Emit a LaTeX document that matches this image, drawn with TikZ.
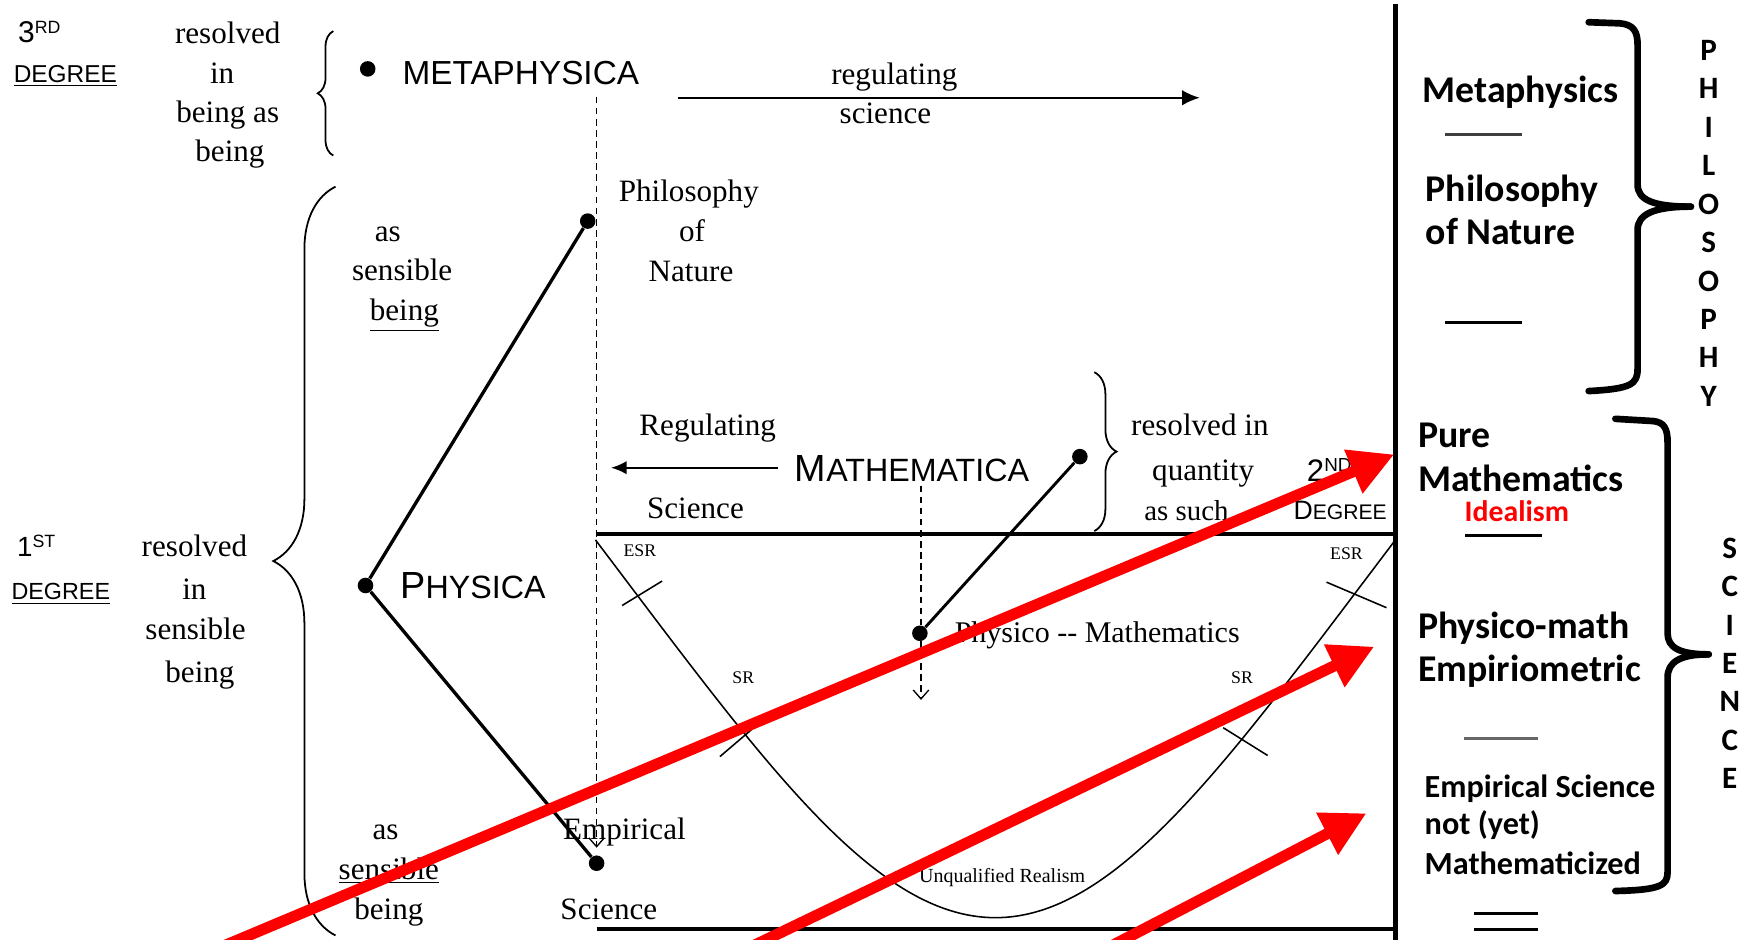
\documentclass[tikz,border=0pt]{standalone}
\usepackage{fontspec}
\usetikzlibrary{arrows.meta,decorations.pathreplacing}
\newfontfamily\serifF{Liberation Serif}
\newfontfamily\sansF{Liberation Sans}
\newfontfamily\calF{Carlito}
\tikzset{
  dot/.style={circle,fill=black,inner sep=0pt,minimum size=7pt},
  tx/.style={inner sep=0pt,font={\serifF\fontsize{14}{16}\selectfont},anchor=mid,yshift=-2.5pt},
  smalltx/.style={inner sep=0pt,font={\serifF\fontsize{8}{9}\selectfont},anchor=mid,yshift=-1pt},
  capt/.style={inner sep=0pt,anchor=base west},
  rt/.style={inner sep=0pt,font={\calF\bfseries\fontsize{17}{20}\selectfont},anchor=base west,yshift=-1.2pt},
  rts/.style={inner sep=0pt,font={\calF\bfseries\fontsize{14.5}{17}\selectfont},anchor=base west,yshift=-1.2pt},
  colt/.style={inner sep=0pt,align=center,font={\calF\bfseries\fontsize{14}{17.3}\selectfont}},
  redarrow/.style={draw=red,line width=5pt,-{Triangle[length=20pt,width=20pt]}},
  hbrace/.style={decorate,decoration={brace,amplitude=#1},line width=0.8pt},
  bbrace/.style={line width=3pt,line cap=round,line join=round},
  tickmark/.style={line width=0.7pt},
  dashln/.style={line width=0.6pt,dash pattern=on 3pt off 2pt},
  vtip/.style={-{Straight Barb[length=4pt,width=7pt]}},
}
\begin{document}
\begin{tikzpicture}[x=0.5pt,y=-0.5pt]
\useasboundingbox (0,0) rectangle (1568,846);
\clip (0,0) rectangle (1568,846);

% ---------- 3rd degree ----------
\node[capt,font={\sansF\fontsize{13.5}{14}\selectfont}] (n3) at (16,38) {3\raisebox{4pt}{\fontsize{8}{9}\selectfont RD}};
\node[capt,font={\sansF\fontsize{11}{12}\selectfont}] (deg3) at (12,74) {\underline{DEGREE}};
\node[tx] (r3a) at (205,30) {resolved};
\node[tx] (r3b) at (200,66) {in};
\node[tx] (r3c) at (205,101) {being as};
\node[tx] (r3d) at (207,136) {being};
\draw[hbrace=7pt] (300,140) -- (300,28);
\node[dot] (meta) at (331,62) {};
\node[capt,font={\sansF\fontsize{15}{16}\selectfont}] (metat) at (362,76) {METAPHYSICA};
\coordinate (rs) at (610,88);
\coordinate (re) at (1080,88);
\draw[line width=1pt,-{Latex[length=8pt,width=7pt]}] (rs) -- (re);
\node[tx] (regt) at (805,67) {regulating};
\node[tx] (sct) at (797,102) {science};

% ---------- dashed vertical ----------
\coordinate (dtop) at (537,87);
\coordinate (dbot) at (537,763);
\draw[dashln,vtip] (dtop) -- (dbot);

% ---------- philosophy of nature / physica ----------
\node[dot] (pn) at (529,199) {};
\node[tx] (pn1) at (620,172) {Philosophy};
\node[tx] (pn2) at (623,208) {of};
\node[tx] (pn3) at (622,244) {Nature};
\node[tx] (as1) at (349,208) {as};
\node[tx] (as2) at (362,243) {sensible};
\node[tx] (as3) at (364,279) {\underline{being}};
\node[dot] (phys) at (329,527) {};
\node[capt,font=\sansF] (physt) at (360,539) {\fontsize{17}{17}\selectfont P\fontsize{14.5}{15}\selectfont HYSICA};
\node[dot] (emp) at (537,777) {};
\draw[line width=1.5pt] (pn) -- (phys) -- (emp);

% ---------- 1st degree ----------
\node[capt,font={\sansF\fontsize{12.5}{13}\selectfont}] (n1) at (15,501) {1\raisebox{4pt}{\fontsize{8}{9}\selectfont ST}};
\node[capt,font={\sansF\fontsize{10.5}{12}\selectfont}] (deg1) at (10,540) {\underline{DEGREE}};
\node[tx] (r1a) at (175,492) {resolved};
\node[tx] (r1b) at (175,530) {in};
\node[tx] (r1c) at (176,566) {sensible};
\node[tx] (r1d) at (180,605) {being};
\draw[hbrace=28pt] (302,842) -- (302,168);

% ---------- mathematica ----------
\node[tx] (regl) at (637,383) {Regulating};
\coordinate (la1) at (700,421);
\coordinate (la2) at (550,421);
\draw[line width=0.9pt,-{Latex[length=7pt,width=6pt]}] (la1) -- (la2);
\node[tx] (scil) at (626,457) {Science};
\node[capt,font=\sansF] (matht) at (715,433) {\fontsize{17}{17}\selectfont M\fontsize{14.5}{15}\selectfont ATHEMATICA};
\node[dot] (math) at (972,411) {};
\node[dot] (pm) at (828,570) {};
\draw[line width=1.3pt] (math) -- (pm);
\coordinate (mdt) at (829,437);
\coordinate (mdb) at (829,630);
\draw[dashln,vtip] (mdt) -- (mdb);
\draw[hbrace=10pt] (985,335) -- (985,478);
\node[tx] (q1) at (1080,383) {resolved in};
\node[tx] (q2) at (1083,423) {quantity};
\node[tx,font={\serifF\fontsize{13}{15}\selectfont}] (q3) at (1068,459) {as such};
\node[capt,font={\sansF\fontsize{14}{15}\selectfont}] (n2) at (1176,433) {2\raisebox{4.5pt}{\fontsize{8.5}{9}\selectfont ND}};
\node[capt,font=\sansF] (deg2) at (1164,468) {\fontsize{12}{13}\selectfont D\fontsize{9.5}{10}\selectfont EGREE};

% ---------- lower field ----------
\coordinate (hl1) at (537,481);
\coordinate (hl2) at (1256,481);
\draw[line width=1.8pt] (hl1) -- (hl2);
\coordinate (bl1) at (537,836);
\coordinate (bl2) at (1256,836);
\draw[line width=1.8pt] (bl1) -- (bl2);
\draw[line width=0.7pt] (536,486) .. controls (686,684) and (786,826) .. (896,826)
  .. controls (1006,826) and (1106,684) .. (1256,486);
\draw[tickmark] (560,545) -- (596,523);
\draw[tickmark] (648,681) -- (682,652);
\draw[tickmark] (1194,524) -- (1248,547);
\draw[tickmark] (1101,655) -- (1141,680);
\node[smalltx] (esr1) at (576,495) {ESR};
\node[smalltx] (sr1) at (669,609) {SR};
\node[smalltx] (esr2) at (1212,497) {ESR};
\node[smalltx] (sr2) at (1118,609) {SR};
\node[tx,anchor=mid west,font={\serifF\fontsize{13.5}{15}\selectfont}] (pmt) at (859,569) {Physico -{}- Mathematics};
\node[tx,font={\serifF\fontsize{9}{10}\selectfont}] (ur) at (902,785) {Unqualified Realism};
\node[tx] (bs1) at (347,746) {as};
\node[tx] (bs2) at (350,782) {\underline{sensible}};
\node[tx] (bs3) at (350,818) {being};
\node[tx] (emp1) at (562,746) {Empirical};
\node[tx] (emp2) at (548,818) {Science};

% ---------- right panel ----------
\coordinate (vt) at (1256,4);
\coordinate (vb) at (1256,846);
\draw[line width=2.5pt] (vt) -- (vb);
\node[rt] (t1) at (1280,90) {Metaphysics};
\draw[line width=1pt,black!75] (1301,121) -- (1370,121);
\node[rt] (t2) at (1283,179) {Philosophy};
\node[rt] (t3) at (1283,218) {of Nature};
\draw[line width=1.5pt] (1301,290) -- (1370,290);
\node[rt] (t4) at (1276,400) {Pure};
\node[rt] (t5) at (1276,440) {Mathematics};
\node[rt,font={\calF\bfseries\fontsize{13.4}{15}\selectfont},text=red] (t6) at (1318,467) {Idealism};
\draw[line width=1.5pt] (1319,482) -- (1388,482);
\node[rt] (t7) at (1276,572) {Physico-math};
\node[rt] (t8) at (1276,611) {Empiriometric};
\draw[line width=1.5pt,black!60] (1318,665) -- (1384,665);
\node[rts] (t9) at (1282,715) {Empirical Science};
\node[rts] (t10) at (1282,749) {not (yet)};
\node[rts] (t11) at (1282,785) {Mathematicized};
\draw[line width=1.3pt] (1327,822) -- (1384,822);
\draw[line width=1.3pt] (1327,837) -- (1384,837);

\draw[bbrace] (1430,20) -- (1458,21) .. controls (1470,22) and (1474,28) .. (1474,40) -- (1474,166)
  .. controls (1474,180) and (1488,186) .. (1522,186);
\draw[bbrace] (1522,186) .. controls (1488,186) and (1474,193) .. (1474,207) -- (1474,332)
  .. controls (1474,346) and (1468,350) .. (1430,352);
\draw[bbrace] (1454,377) -- (1488,379) .. controls (1498,380) and (1501,386) .. (1501,398) -- (1501,570)
  .. controls (1501,583) and (1512,589) .. (1538,589);
\draw[bbrace] (1538,589) .. controls (1512,589) and (1501,596) .. (1501,610) -- (1501,785)
  .. controls (1501,797) and (1495,801) .. (1454,802);
\node[colt] (philo) at (1538,201) {P\\H\\I\\L\\O\\S\\O\\P\\H\\Y};
\node[colt] (scie) at (1557,597) {S\\C\\I\\E\\N\\C\\E};

% ---------- red arrows ----------
\coordinate (ra1s) at (181,860);
\coordinate (ra1e) at (1255,409);
\coordinate (ra2s) at (660,860);
\coordinate (ra2e) at (1237,582);
\coordinate (ra3s) at (984,860);
\coordinate (ra3e) at (1230,732);
\draw[redarrow] (ra1s) -- (ra1e);
\draw[redarrow] (ra2s) -- (ra2e);
\draw[redarrow] (ra3s) -- (ra3e);
\end{tikzpicture}
\end{document}
